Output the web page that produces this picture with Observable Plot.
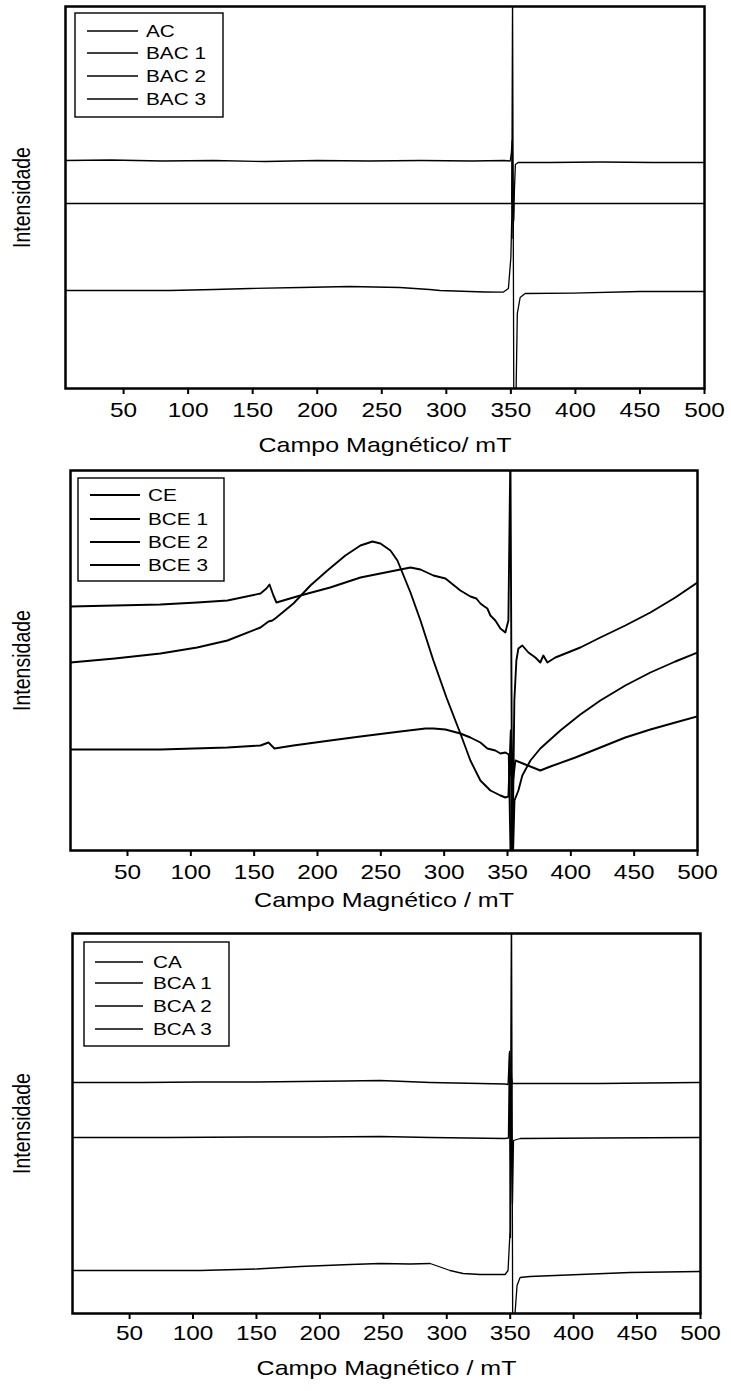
<!DOCTYPE html>
<html><head><meta charset="utf-8">
<script src="https://cdn.jsdelivr.net/npm/d3@7"></script>
<script src="https://cdn.jsdelivr.net/npm/@observablehq/plot@0.6"></script>
<style>
body{margin:0;background:#fff;}
#chart{width:731px;}
#chart svg{display:block;}
</style>
</head><body><div id="chart"></div>
<script>
// ---------- shared axis values ----------
const fieldTicks = [50, 100, 150, 200, 250, 300, 350, 400, 450, 500];
const fieldDomain = [5, 500];
const yLabel = "Intensidade";

// ---------- panel 1 ----------
const legend1 = ["AC", "BAC 1", "BAC 2", "BAC 3"];
const title1 = "Campo Magnético/ mT";
const p1_AC = [[5,228],[40,228.5],[80,227.5],[120,228],[160,227],[200,228],[240,227.5],[280,228],[320,227.5],[345,228],[349.5,227.5],[350.4,236],[351,248],[351.6,205],[352.2,168],[352.8,200],[353.5,224],[355.6,226],[380,226],[420,226.5],[460,226],[500,226]];
const p1_BAC1 = [[5,185],[100,185],[200,185],[300,185],[350.6,185],[351.1,235],[351.7,150],[352.3,185],[400,185],[500,185]];
const p1_BAC2 = [[5,98],[50,98],[86,98],[120,99],[148,100],[187,101],[225,102],[264,101],[287,99],[295,98],[318,97],[330,96.5],[344,96.3],[348.1,100],[350,131],[350.7,171],[351.3,395],[352.3,-20],[354.1,1],[355,75],[357.2,91],[361,95],[398,95.3],[450,97],[500,97]];

// ---------- panel 2 ----------
const legend2 = ["CE", "BCE 1", "BCE 2", "BCE 3"];
const title2 = "Campo Magnético / mT";
const p2_CE = [[5,244],[40,245],[76,246],[105,248],[128.9,250],[155,257],[159.7,262],[162.1,266],[165.2,255],[167.6,248],[181,253],[186.5,255],[210,263],[233.9,273],[253.6,278],[273.4,283],[281.3,281],[291.5,275],[301,272],[312.8,260],[320.7,254],[325.4,252],[328.6,247],[331.8,244],[334.1,242],[336.5,235],[340.4,230],[344.4,222],[348.3,218],[350.7,230],[352.3,400],[353.8,-20],[355.4,150],[357,190],[358.6,202],[361.7,205],[366.5,198],[372,193],[375.9,188],[378.3,195],[381.5,188],[387.8,193],[407.5,203],[423.3,213],[443,225],[462.8,238],[482.5,253],[499.9,268]];
const p2_BCE1 = [[5,188],[40,192],[76,197],[105,203],[128.9,210],[155,223],[161.3,229],[164.4,230],[167.6,233],[181,247],[194.4,265],[207.8,280],[222,295],[233.9,305],[243.4,309],[249.7,307],[257.6,300],[263.1,290],[273.4,258],[281.3,230],[291.5,190],[301.8,153],[312.8,117],[320.7,90],[328.6,70],[336.5,60],[344.4,55],[348.3,53],[350.7,54],[352.6,120],[353.6,-40],[355.5,50],[358.6,60],[361.7,75],[368.1,90],[375.9,102],[391.7,120],[407.5,136],[423.3,150],[443,165],[462.8,178],[482.5,189],[499.9,198]];
const p2_BCE2 = [[5,101],[40,101],[76,101],[128.9,103],[155,105],[161.3,108],[166,102],[181,105],[210,110],[233.9,114],[265.4,119],[285.2,122],[291.5,122],[301,121],[312.8,117],[320.7,113],[328.6,108],[334.1,102],[340.4,100],[344.4,97],[348.3,98],[351,96],[352.8,-30],[354.4,70],[356.2,90],[364.1,86],[372,82],[375.9,80],[383.9,84],[403.6,93],[423.3,103],[443,113],[462.8,121],[482.5,128],[499.9,134]];

// ---------- panel 3 ----------
const legend3 = ["CA", "BCA 1", "BCA 2", "BCA 3"];
const title3 = "Campo Magnético / mT";
const p3_CA = [[5,231],[60,231],[105.8,231.5],[150,231.5],[184.5,232],[220,232.5],[247.5,233],[286.9,231],[326.3,230],[346,229.5],[348.3,229],[349.5,262],[350.3,150],[351.1,235],[351.8,230],[357.8,230],[420.7,230],[497,231],[500,231]];
const p3_BCA1 = [[5,176],[80,176],[145,176.5],[200,176.5],[247.5,177],[286.9,176],[346,175],[348.6,175.5],[349.4,260],[350.2,76],[351,240],[351.8,110],[352.6,173],[357.8,175],[420,175.5],[500,176]];
const p3_BCA2 = [[5,43],[60,43],[105.8,43],[150,44.5],[184.5,47],[223.9,49],[247.5,50],[271.1,49.5],[286.9,50],[302.6,43],[312.9,40],[326.3,39],[346,39],[348.3,43],[349.9,83],[351,420],[352,-30],[353.8,0],[355.4,28],[357.8,36],[365.6,37],[444.4,41],[500,42]];

// ---------- helpers ----------
function table(series) {
  return series.flatMap(([name, pts]) => pts.map(([B, v]) => ({series: name, B, v})));
}

const STRETCH = 1.22;

function panel(cfg) {
  const svg = Plot.plot({
    width: 731,
    height: cfg.height,
    marginTop: cfg.mt, marginBottom: cfg.mb, marginLeft: cfg.ml, marginRight: cfg.mr,
    style: {fontFamily: "'Liberation Sans', Arial, sans-serif", fontSize: "20px", color: "black", background: "white", overflow: "visible"},
    x: {domain: fieldDomain},
    y: {domain: cfg.ydomain, axis: null},
    marks: [
      Plot.line(table(cfg.series), {x: "B", y: "v", z: "series", stroke: "black", strokeWidth: cfg.lw, strokeLinejoin: "round", clip: true}),
      Plot.frame({strokeWidth: 2.5}),
      Plot.axisX({ticks: fieldTicks, tickSize: 6, tickPadding: cfg.tp, strokeWidth: 2, label: null, fontSize: 20}),
      Plot.text([cfg.title], {text: d => d, frameAnchor: "bottom", textAnchor: "middle", lineAnchor: "middle", dy: cfg.titleDy, fontSize: 20.5}),
      Plot.text([yLabel], {text: d => d, frameAnchor: "left", textAnchor: "middle", lineAnchor: "middle", rotate: -90, dx: cfg.ylDx, fontSize: 19.5})
    ]
  });
  // horizontal stretch of the lettering, as in the reference
  d3.select(svg).selectAll("text").each(function() {
    const t = this.getAttribute("transform") || "";
    this.setAttribute("transform", t + (/rotate/.test(t) ? ` scale(1,${STRETCH})` : ` scale(${STRETCH},1)`));
  });
  // legend box
  const L = cfg.legend, g = d3.select(svg).append("g").attr("text-anchor", "start");
  g.append("rect").attr("x", L.x0).attr("y", L.y0).attr("width", L.x1 - L.x0).attr("height", L.y1 - L.y0)
    .attr("fill", "white").attr("stroke", "black").attr("stroke-width", 1.4);
  cfg.keys.forEach((k, i) => {
    const y = L.rows[i];
    g.append("line").attr("x1", L.lx0).attr("x2", L.lx1).attr("y1", y).attr("y2", y)
      .attr("stroke", "black").attr("stroke-width", cfg.lw);
    g.append("text").attr("transform", `translate(${L.tx},${y}) scale(${STRETCH},1)`)
      .attr("text-anchor", "start").attr("dy", "0.36em").attr("font-size", 17).attr("fill", "black").text(k);
  });
  return svg;
}

const chart = document.getElementById("chart");
chart.append(panel({
  height: 463, mt: 6, mb: 75, ml: 65, mr: 27, tp: 8, titleDy: 57, ylDx: -43, lw: 1.3,
  ydomain: [0, 382], title: title1, keys: legend1,
  series: [[legend1[0], p1_AC], [legend1[1], p1_BAC1], [legend1[2], p1_BAC2]],
  legend: {x0: 75, x1: 223, y0: 13, y1: 117, lx0: 87, lx1: 138, tx: 146, rows: [31, 53, 76, 99]}
}));
chart.append(panel({
  height: 463, mt: 7, mb: 76, ml: 70, mr: 34, tp: 8, titleDy: 50, ylDx: -48, lw: 1.9,
  ydomain: [0, 380], title: title2, keys: legend2,
  series: [[legend2[0], p2_CE], [legend2[1], p2_BCE1], [legend2[2], p2_BCE2]],
  legend: {x0: 78, x1: 224, y0: 15, y1: 118, lx0: 90, lx1: 140, tx: 148, rows: [32, 56, 79, 102]}
}));
chart.append(panel({
  height: 465, mt: 7, mb: 78, ml: 72, mr: 31, tp: 6, titleDy: 55, ylDx: -50, lw: 1.3,
  ydomain: [0, 380], title: title3, keys: legend3,
  series: [[legend3[0], p3_CA], [legend3[1], p3_BCA1], [legend3[2], p3_BCA2]],
  legend: {x0: 84, x1: 229, y0: 16, y1: 120, lx0: 95, lx1: 143, tx: 153, rows: [36, 57, 80, 103]}
}));
</script>
</body></html>
